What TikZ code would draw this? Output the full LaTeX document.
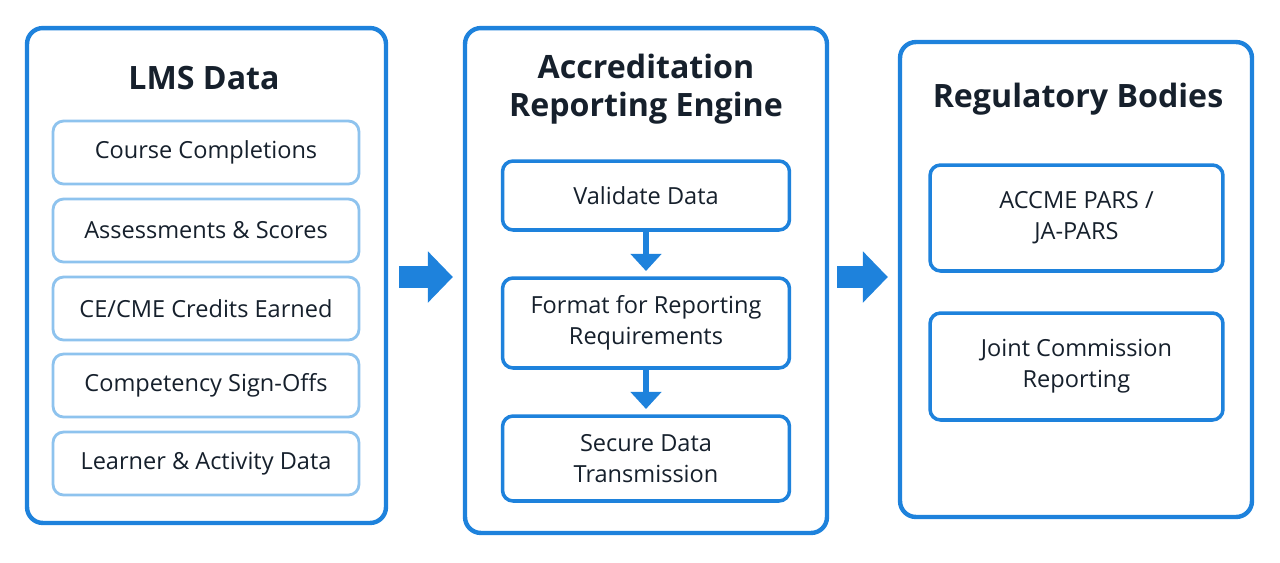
\documentclass[tikz,border=0pt]{standalone}
\usepackage{fontspec}
\setmainfont{Open Sans}
\usetikzlibrary{arrows.meta}
\definecolor{frameblue}{HTML}{1E82DC}
\definecolor{lightblue}{HTML}{8EC3EE}
\definecolor{titleink}{HTML}{16202C}
\tikzset{
	panel/.style={draw=frameblue,line width=2.5pt,rounded corners=9pt,fill=white},
	item/.style={draw=lightblue,line width=1.6pt,rounded corners=6pt,minimum width=6.12cm,minimum height=1.26cm,align=center,font=\fontsize{13.4}{17.5}\selectfont,text=titleink},
	stage/.style={draw=frameblue,line width=2pt,rounded corners=6pt,minimum width=5.74cm,align=center,font=\fontsize{13.4}{17.5}\selectfont,text=titleink},
	heading/.style={font=\fontsize{18.3}{23.5}\selectfont\bfseries,text=titleink,align=center},
	bigarrow/.style={draw=frameblue,line width=0.44cm,-{Triangle[width=1cm,length=0.5cm]}},
	smallarrow/.style={draw=frameblue,line width=0.12cm,-{Triangle[width=0.6cm,length=0.34cm]}}
}
\begin{document}
\begin{tikzpicture}[x=0.02cm,y=-0.02cm]
	\useasboundingbox (0,0) rectangle (1280,562);

	% panels
	\node[panel,minimum width=7.18cm,minimum height=9.9cm] (lms) at (206.5,275.5) {};
	\node[panel,minimum width=7.24cm,minimum height=10.1cm] (eng) at (646,280.5) {};
	\node[panel,minimum width=7.04cm,minimum height=9.5cm] (reg) at (1076,279.5) {};

	\node[heading] (lmstitle) at (204,78) {LMS Data};
	\node[heading] (engtitle) at (646,89) {Accreditation\\[-2pt]Reporting Engine};
	\node[heading] (regtitle) at (1078,99) {Regulatory Bodies};

	% LMS items
	\node[item] (course) at (206,152.5) {Course Completions};
	\node[item] (assess) at (206,230.5) {Assessments \& Scores};
	\node[item] (credit) at (206,308.5) {CE/CME Credits Earned};
	\node[item] (compet) at (206,385.5) {Competency Sign-Offs};
	\node[item] (learner) at (206,463.5) {Learner \& Activity Data};

	% engine stages
	\node[stage,minimum height=1.38cm] (validate) at (646,195.5) {Validate Data};
	\node[stage,minimum height=1.8cm] (format) at (646,323) {Format for Reporting\\Requirements};
	\node[stage,minimum height=1.7cm] (secure) at (646,458.5) {Secure Data\\Transmission};

	% regulatory outputs
	\node[stage,minimum width=5.86cm,minimum height=2.12cm] (accme) at (1076.5,218) {ACCME PARS /\\JA-PARS};
	\node[stage,minimum width=5.86cm,minimum height=2.14cm] (joint) at (1076.5,366.5) {Joint Commission\\Reporting};

	% arrows
	\draw[smallarrow,shorten >=3pt] (validate) -- (format);
	\draw[smallarrow,shorten >=3pt] (format) -- (secure);
	\draw[bigarrow,shorten <=0.22cm,shorten >=0.2cm] (lms.east |- 0,277) -- (eng.west |- 0,277);
	\draw[bigarrow,shorten <=0.16cm,shorten >=0.2cm] (eng.east |- 0,277) -- (reg.west |- 0,277);
\end{tikzpicture}
\end{document}
